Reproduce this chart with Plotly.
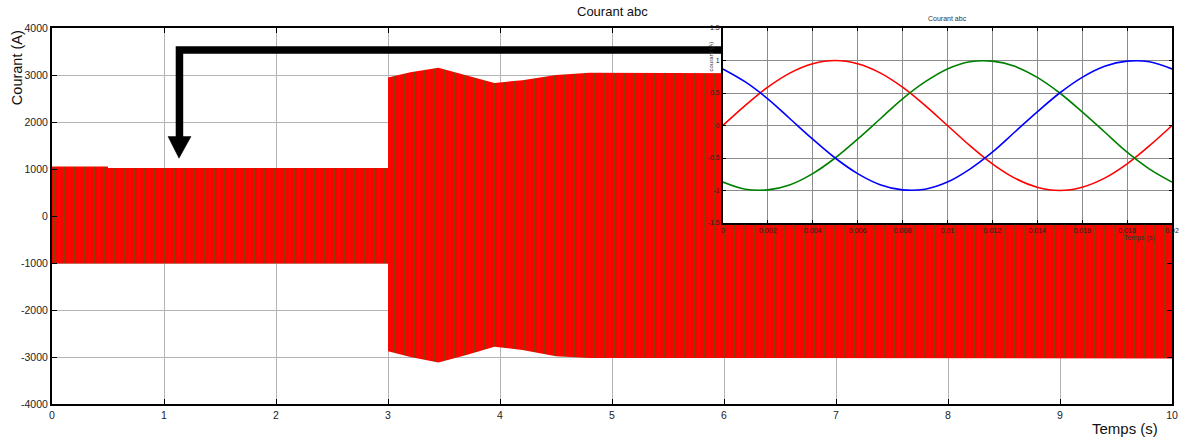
import plotly.graph_objects as go

# ---------------- data ----------------
# Envelope of the three-phase current bundle (main chart), time in s, current in A
env_t = [0.0, 0.5, 0.5, 3.0, 3.0, 3.2, 3.45, 3.7, 3.95, 4.2, 4.5, 4.8, 5.5, 7.0, 10.0]
env_upper = [1055, 1055, 1020, 1020, 2945, 3060, 3155, 3000, 2830, 2890, 3000, 3050, 3040, 3035, 3030]
env_lower = [-1010, -1010, -1010, -1010, -2880, -3000, -3115, -2960, -2780, -2850, -2985, -3020, -3020, -3025, -3030]

# Inset: one period of the three phases (per unit)
ins_t = [0.000, 0.001, 0.002, 0.003, 0.004, 0.005, 0.006, 0.007, 0.008, 0.009, 0.010,
         0.011, 0.012, 0.013, 0.014, 0.015, 0.016, 0.017, 0.018, 0.019, 0.020]
ins_red = [0.00, 0.31, 0.59, 0.81, 0.95, 1.00, 0.95, 0.81, 0.59, 0.31, 0.00,
           -0.31, -0.59, -0.81, -0.95, -1.00, -0.95, -0.81, -0.59, -0.31, 0.00]
ins_green = [-0.87, -0.98, -0.99, -0.91, -0.74, -0.50, -0.21, 0.10, 0.41, 0.67, 0.87,
             0.98, 0.99, 0.91, 0.74, 0.50, 0.21, -0.10, -0.41, -0.67, -0.87]
ins_blue = [0.87, 0.67, 0.41, 0.10, -0.21, -0.50, -0.74, -0.91, -0.99, -0.98, -0.87,
            -0.67, -0.41, -0.10, 0.21, 0.50, 0.74, 0.91, 0.99, 0.98, 0.87]

main_xticks = [0, 1, 2, 3, 4, 5, 6, 7, 8, 9, 10]
main_yticks = [-4000, -3000, -2000, -1000, 0, 1000, 2000, 3000, 4000]
main_ytext = ["-4000", "-3000", "-2000", "-1000", "0", "1000", "2000", "3000", "4000"]
ins_xticks = [0, 0.002, 0.004, 0.006, 0.008, 0.01, 0.012, 0.014, 0.016, 0.018, 0.02]
ins_xtext = ["0", "0.002", "0.004", "0.006", "0.008", "0.01", "0.012", "0.014", "0.016", "0.018", "0.02"]
ins_yticks = [-1.5, -1, -0.5, 0, 0.5, 1, 1.5]
ins_ytext = ["-1.5", "-1", "-0.5", "0", "0.5", "1", "1.5"]

FONT = "Liberation Sans, Arial, sans-serif"

fig = go.Figure()

# main chart: band between envelopes, red with green stripes
band_x = env_t + env_t[::-1]
band_y = env_upper + env_lower[::-1]
fig.add_trace(go.Scatter(
    x=band_x, y=band_y, mode="lines", fill="toself",
    line=dict(color="red", width=0),
    fillcolor="red",
    fillpattern=dict(shape="|", fgcolor="#1f7a00", bgcolor="red", size=5, solidity=0.22),
    xaxis="x", yaxis="y", showlegend=False, hoverinfo="skip"))

# inset traces
for ys, col in [(ins_red, "#ff0000"), (ins_green, "#008000"), (ins_blue, "#0000ff")]:
    fig.add_trace(go.Scatter(
        x=ins_t, y=ys, mode="lines", line=dict(color=col, width=1.6, shape="spline"),
        xaxis="x2", yaxis="y2", showlegend=False))

axis_common = dict(showline=True, linecolor="black", mirror="ticks", ticks="inside",
                   tickcolor="black", zeroline=False, showgrid=True)

fig.update_layout(
    width=1180, height=441,
    margin=dict(l=52, r=8, t=28, b=37, autoexpand=False),
    paper_bgcolor="white", plot_bgcolor="white",
    font=dict(family=FONT, color="#222222"),
    xaxis=dict(domain=[0, 1], range=[0, 10], tickvals=main_xticks,
               ticktext=[str(v) for v in main_xticks], ticklen=5, linewidth=2,
               gridcolor="#b4b4b4", gridwidth=1, tickfont=dict(size=10.5), **axis_common),
    yaxis=dict(domain=[0, 1], range=[-4000, 4000], tickvals=main_yticks, ticktext=main_ytext,
               ticklen=5, linewidth=2, gridcolor="#b4b4b4", gridwidth=1,
               tickfont=dict(size=10.5), **axis_common),
    xaxis2=dict(domain=[0.599, 1.0], range=[0, 0.02], anchor="y2", tickvals=ins_xticks,
                ticktext=ins_xtext, ticklen=3, linewidth=1.5, gridcolor="#8c8c8c",
                tickfont=dict(size=7), **axis_common),
    yaxis2=dict(domain=[0.4814, 1.0], range=[-1.5, 1.5], anchor="x2", tickvals=ins_yticks,
                ticktext=ins_ytext, ticklen=3, linewidth=1.5, gridcolor="#8c8c8c",
                tickfont=dict(size=7), **axis_common),
    annotations=[
        dict(text="Courant abc", xref="paper", yref="paper", x=0.5, y=1.0426,
             xanchor="center", yanchor="middle", showarrow=False, font=dict(size=13, color="#111")),
        dict(text="Courant (A)", xref="paper", yref="paper", x=-0.031, y=0.894, textangle=-90,
             xanchor="center", yanchor="middle", showarrow=False, font=dict(size=14.5, color="#111")),
        dict(text="Temps (s)", xref="paper", yref="paper", x=0.958, y=-0.064,
             xanchor="center", yanchor="middle", showarrow=False, font=dict(size=15, color="#111")),
        dict(text="Courant abc", xref="paper", yref="paper", x=0.7995, y=1.024,
             xanchor="center", yanchor="middle", showarrow=False, font=dict(size=7, color="#333333")),
        dict(text="courant (A)", xref="paper", yref="paper", x=0.588, y=0.923, textangle=-90,
             xanchor="center", yanchor="middle", showarrow=False, font=dict(size=6, color="#333333")),
        dict(text="Temps (s)", xref="paper", yref="paper", x=0.971, y=0.441,
             xanchor="center", yanchor="middle", showarrow=False, font=dict(size=7, color="#333333")),
    ],
    shapes=[
        dict(type="path", xref="x", yref="y", layer="above",
             path="M 5.99,3533 L 1.138,3533 L 1.138,1660",
             line=dict(color="black", width=7.5), fillcolor="rgba(0,0,0,0)"),
        dict(type="path", xref="x", yref="y", layer="above",
             path="M 1.036,1690 L 1.241,1690 L 1.134,1230 Z",
             line=dict(color="black", width=0.5), fillcolor="black"),
    ],
)

fig.write_html("out.html",
               config={"displayModeBar": False, "responsive": False},
               post_script="document.body.style.margin='0';document.body.style.padding='0';"
                           "document.body.style.overflow='hidden';")
